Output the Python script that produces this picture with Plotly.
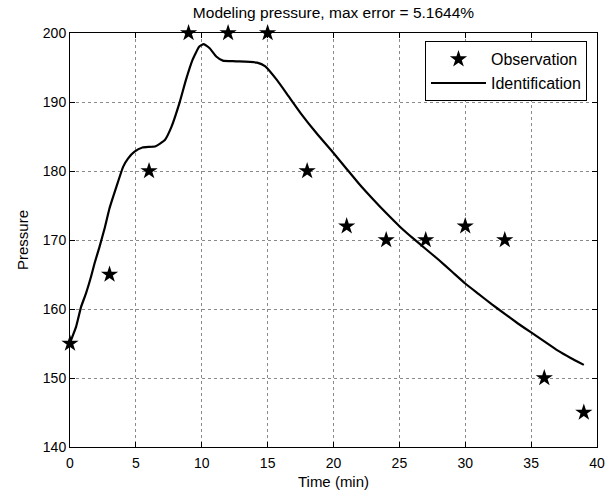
import plotly.graph_objects as go

# Observations
obs_t = [0, 3, 6, 9, 12, 15, 18, 21, 24, 27, 30, 33, 36, 39]
obs_p = [155, 165, 180, 200, 200, 200, 180, 172, 170, 170, 172, 170, 150, 145]

# Identification curve
id_t = [0, 0.46, 0.84, 1.22, 1.6, 1.86, 2.24, 2.63, 3.0, 3.52, 4.03, 4.4, 4.9,
        5.5, 6.5, 7.2, 7.7, 8.3, 8.8, 9.3, 9.8, 10.15, 10.6, 11.1, 11.6,
        12.6, 14.2, 14.8, 15.7, 16.6, 17.5, 18.7, 20.0, 21.0, 22.0, 23.0,
        24.0, 25.0, 26.0, 27.0, 28.0, 29.0, 30.0, 31.0, 32.0, 33.0, 34.0,
        35.0, 36.0, 37.0, 38.0, 39.0]
id_p = [155.1, 157.4, 160.3, 162.3, 164.7, 166.6, 169.0, 171.7, 174.6, 177.7, 180.6, 181.8, 182.8,
        183.4, 183.6, 184.5, 186.4, 189.8, 193.2, 196.1, 198.0, 198.4, 197.8, 196.6, 196.0,
        195.9, 195.7, 195.2, 193.2, 190.8, 188.4, 185.5, 182.6, 180.3, 178.0, 175.9,
        173.9, 172.0, 170.3, 168.7, 167.1, 165.4, 163.7, 162.2, 160.7, 159.3, 157.9,
        156.6, 155.3, 154.0, 152.9, 151.9]

x_ticks = [0, 5, 10, 15, 20, 25, 30, 35, 40]
y_ticks = [140, 150, 160, 170, 180, 190, 200]

FONT = "Liberation Sans, Arial, sans-serif"

fig = go.Figure()
fig.add_trace(go.Scatter(
    x=obs_t, y=obs_p, mode="markers", name="Observation",
    marker=dict(symbol="star", size=13, color="black", line=dict(width=0)),
    cliponaxis=False,
))
fig.add_trace(go.Scatter(
    x=id_t, y=id_p, mode="lines", name="Identification",
    line=dict(color="black", width=2.2, shape="spline", smoothing=0.4),
))

axis_common = dict(
    showline=True, linecolor="black", linewidth=1, mirror="ticks",
    ticks="inside", ticklen=5, tickcolor="black",
    showgrid=True, gridcolor="#8a8a8a", griddash="dot", gridwidth=1,
    zeroline=False, automargin=False,
    tickfont=dict(family=FONT, size=14, color="black"),
)

fig.update_xaxes(range=[0, 40], tickvals=x_ticks, ticklabelstandoff=3,
                 title=dict(text="Time (min)", font=dict(family=FONT, size=15, color="black"), standoff=6),
                 **axis_common)
fig.update_yaxes(range=[140, 200], tickvals=y_ticks,
                 title=dict(text="Pressure", font=dict(family=FONT, size=15, color="black"), standoff=10),
                 **axis_common)

fig.update_layout(
    width=616, height=490,
    margin=dict(l=70, r=19, t=33, b=43, autoexpand=False),
    plot_bgcolor="white", paper_bgcolor="white",
    font=dict(family=FONT, size=14, color="black"),
    title=dict(text="Modeling pressure, max error = 5.1644%", x=0.5, xref="paper",
               xanchor="center", y=1 - 13 / 490, yanchor="middle",
               font=dict(family=FONT, size=15.5, color="black")),
    legend=dict(x=0.981, y=0.98, xanchor="right", yanchor="top",
                bordercolor="black", borderwidth=1, bgcolor="white",
                font=dict(family=FONT, size=16, color="black"),
                itemwidth=55, tracegroupgap=0),
    showlegend=True,
)

fig.write_html("out.html")
